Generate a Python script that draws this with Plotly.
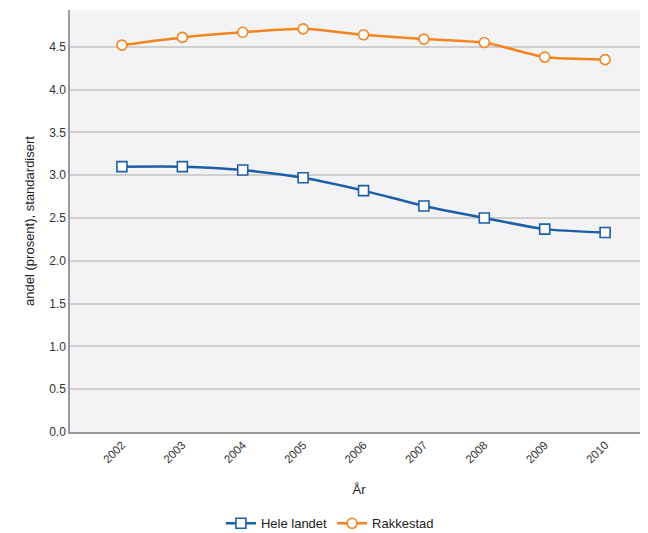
import plotly.graph_objects as go

years = ["2002", "2003", "2004", "2005", "2006", "2007", "2008", "2009", "2010"]
hele_landet = [3.10, 3.10, 3.06, 2.97, 2.82, 2.64, 2.50, 2.37, 2.33]
rakkestad = [4.52, 4.61, 4.67, 4.71, 4.64, 4.59, 4.55, 4.38, 4.35]
y_ticks = [0.0, 0.5, 1.0, 1.5, 2.0, 2.5, 3.0, 3.5, 4.0, 4.5]

BLUE = "#1c5fa8"
ORANGE = "#f5841f"
FONT = "Liberation Sans, Arial, sans-serif"

fig = go.Figure()
fig.add_trace(go.Scatter(
    x=years, y=hele_landet, name="Hele landet", mode="lines+markers",
    line=dict(color=BLUE, width=2.5, shape="spline", smoothing=0.6),
    marker=dict(symbol="square", size=10, color="white", line=dict(color=BLUE, width=1.6)),
))
fig.add_trace(go.Scatter(
    x=years, y=rakkestad, name="Rakkestad", mode="lines+markers",
    line=dict(color=ORANGE, width=2.5, shape="spline", smoothing=0.6),
    marker=dict(symbol="circle", size=10, color="white", line=dict(color=ORANGE, width=1.6)),
))

# The page body has an 8px default margin, so the figure is sized to fit the window.
fig.update_layout(
    width=640, height=525,
    margin=dict(l=62, r=0, t=2, b=101, autoexpand=False),
    paper_bgcolor="white",
    plot_bgcolor="#f3f3f5",
    font=dict(family=FONT, size=12, color="#222"),
    showlegend=True,
    legend=dict(
        orientation="h", xref="container", yref="container",
        x=0.503, xanchor="center", y=0.047, yanchor="top",
        font=dict(size=13, color="#222"), tracegroupgap=0,
    ),
    xaxis=dict(
        type="category", range=[-0.86, 8.71],
        tickangle=-45, tickfont=dict(size=11.5, color="#333"),
        showgrid=False, showline=True, linecolor="#999", linewidth=1.5,
        ticks="", zeroline=False,
        title=dict(text="År", font=dict(size=13, color="#222"), standoff=21),
    ),
    yaxis=dict(
        range=[0, 4.93], tickvals=y_ticks,
        ticktext=[f"{v:.1f}" for v in y_ticks],
        tickfont=dict(size=12, color="#333"),
        showgrid=True, gridcolor="#cfcfcf", gridwidth=1.5,
        showline=True, linecolor="#999", linewidth=1.5,
        ticks="", zeroline=False,
        title=dict(text="andel (prosent), standardisert", font=dict(size=13, color="#222"), standoff=12),
    ),
)

fig.write_html("out.html")
